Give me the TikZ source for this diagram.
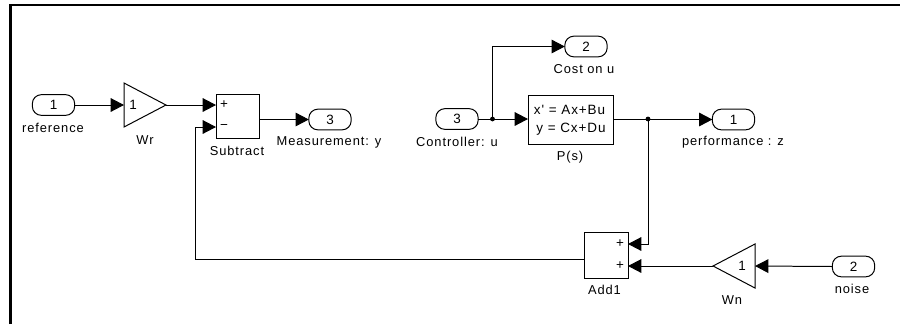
\documentclass[tikz,border=0pt]{standalone}
\usepackage{fontspec}
\usepackage{xcolor}
\setmainfont{Liberation Sans}
\newfontfamily\blockfont[LetterSpace=7]{Liberation Sans}
\usetikzlibrary{arrows.meta,positioning,shapes.geometric,calc}
\tikzset{
  port/.style={draw=black,line width=0.85pt,rounded corners=0.27cm,
               minimum width=1.27cm,minimum height=0.62cm,
               inner sep=0pt,outer sep=0pt,font=\fontsize{11.5}{12}\selectfont},
  block/.style={draw=black,line width=0.85pt,inner sep=0pt,outer sep=0pt,
                align=center},
  gain/.style={draw=black,line width=0.85pt,isosceles triangle,
               isosceles triangle stretches,inner sep=0pt,outer sep=0pt,
               minimum width=1.32cm,minimum height=1.26cm},
  lbl/.style={font=\blockfont\fontsize{11}{12}\selectfont,inner sep=0pt},
  sign/.style={font=\blockfont\fontsize{11.5}{12}\selectfont,inner sep=0pt},
  flowarr/.style={-{Triangle[length=4mm,width=4.1mm]},line width=0.85pt}
}
\begin{document}
\begin{tikzpicture}[x=0.03cm,y=-0.03cm]
      \useasboundingbox (0,0) rectangle (900,324);
      % the page frame, top and left only
      \draw[line width=1.9pt] (10.5,324) -- (10.5,5) -- (900,5);
      % the ports
      \foreach \name/\x/\y/\num/\lx/\ly/\txt in {
          inref/53.5/105/1/53/128/reference,
          incon/457/119/3/457/142/Controller: u,
          innoise/853.5/266.5/2/852/289/noise,
          outmeas/330/119.5/3/329/142/Measurement: y,
          outcost/586/46.5/2/584/69/Cost on u,
          outperf/733.5/119.5/1/733/142/performance : z} {
        \node[port] (\name) at (\x,\y) {\num};
        \node[lbl] (\name lab) at (\lx,\ly) {\txt};
      }
      % the gains
      \node[gain,anchor=west] (wr) at (124,105) {};
      \node[gain,anchor=west,shape border rotate=180] (wn) at (713,266) {};
      \node[sign] (wrone) at (133,104.5) {1};
      \node[sign] (wnone) at (742,265.5) {1};
      \node[lbl] (wrlab) at (145,140) {Wr};
      \node[lbl] (wnlab) at (732,300) {Wn};
      % subtract and add
      \node[block,minimum width=1.29cm,minimum height=1.32cm] (sub) at (237.5,116) {};
      \node[block,minimum width=1.32cm,minimum height=1.38cm] (add) at (606,255) {};
      \node[lbl] (sublab) at (237,151) {Subtract};
      \node[lbl] (addlab) at (604.5,290) {Add1};
      \node[sign] (subp) at (224,105) {+};
      \node[sign] (subm) at (224,127) {−};
      \node[sign] (addp) at (620,244) {+};
      \node[sign] (addq) at (620,266) {+};
      % the plant
      \node[block,minimum width=2.55cm,minimum height=1.47cm] (plant) at (570.5,119.5) {};
      \node[sign] (planta) at (569.5,110) {x' = Ax+Bu};
      \node[sign] (plantb) at (571,129) {y = Cx+Du};
      \node[lbl] (plantlab) at (570,157) {P(s)};
      % input points and branch points
      \coordinate (subone) at (sub.west |- wr.east);
      \coordinate (subtwo) at (216,127);
      \coordinate (addone) at (628,244);
      \coordinate (addtwo) at (628,266);
      \coordinate (addout) at (584,259);
      \coordinate (jcon) at (492.5,119);
      \coordinate (jplant) at (648,119);
      \fill (jcon) circle (2.4);
      \fill (jplant) circle (2.4);
      % the wires
      \draw[flowarr] (inref.east) -- (wr.west);
      \draw[flowarr] (wr.east) -- (subone);
      \draw[flowarr] (sub.east |- outmeas.west) -- (outmeas.west);
      \draw[flowarr] (addout) -| (195,127) -- (subtwo);
      \draw[flowarr] (incon.east) -- (plant.west |- incon.east);
      \draw[flowarr] (jcon) |- (outcost.west);
      \draw[flowarr] (plant.east |- outperf.west) -- (outperf.west);
      \draw[flowarr] (jplant) |- (addone);
      \draw[flowarr] (wn.west) -- (addtwo);
      \draw[flowarr] (innoise.west) -- (wn.east);
    \end{tikzpicture}
\end{document}
